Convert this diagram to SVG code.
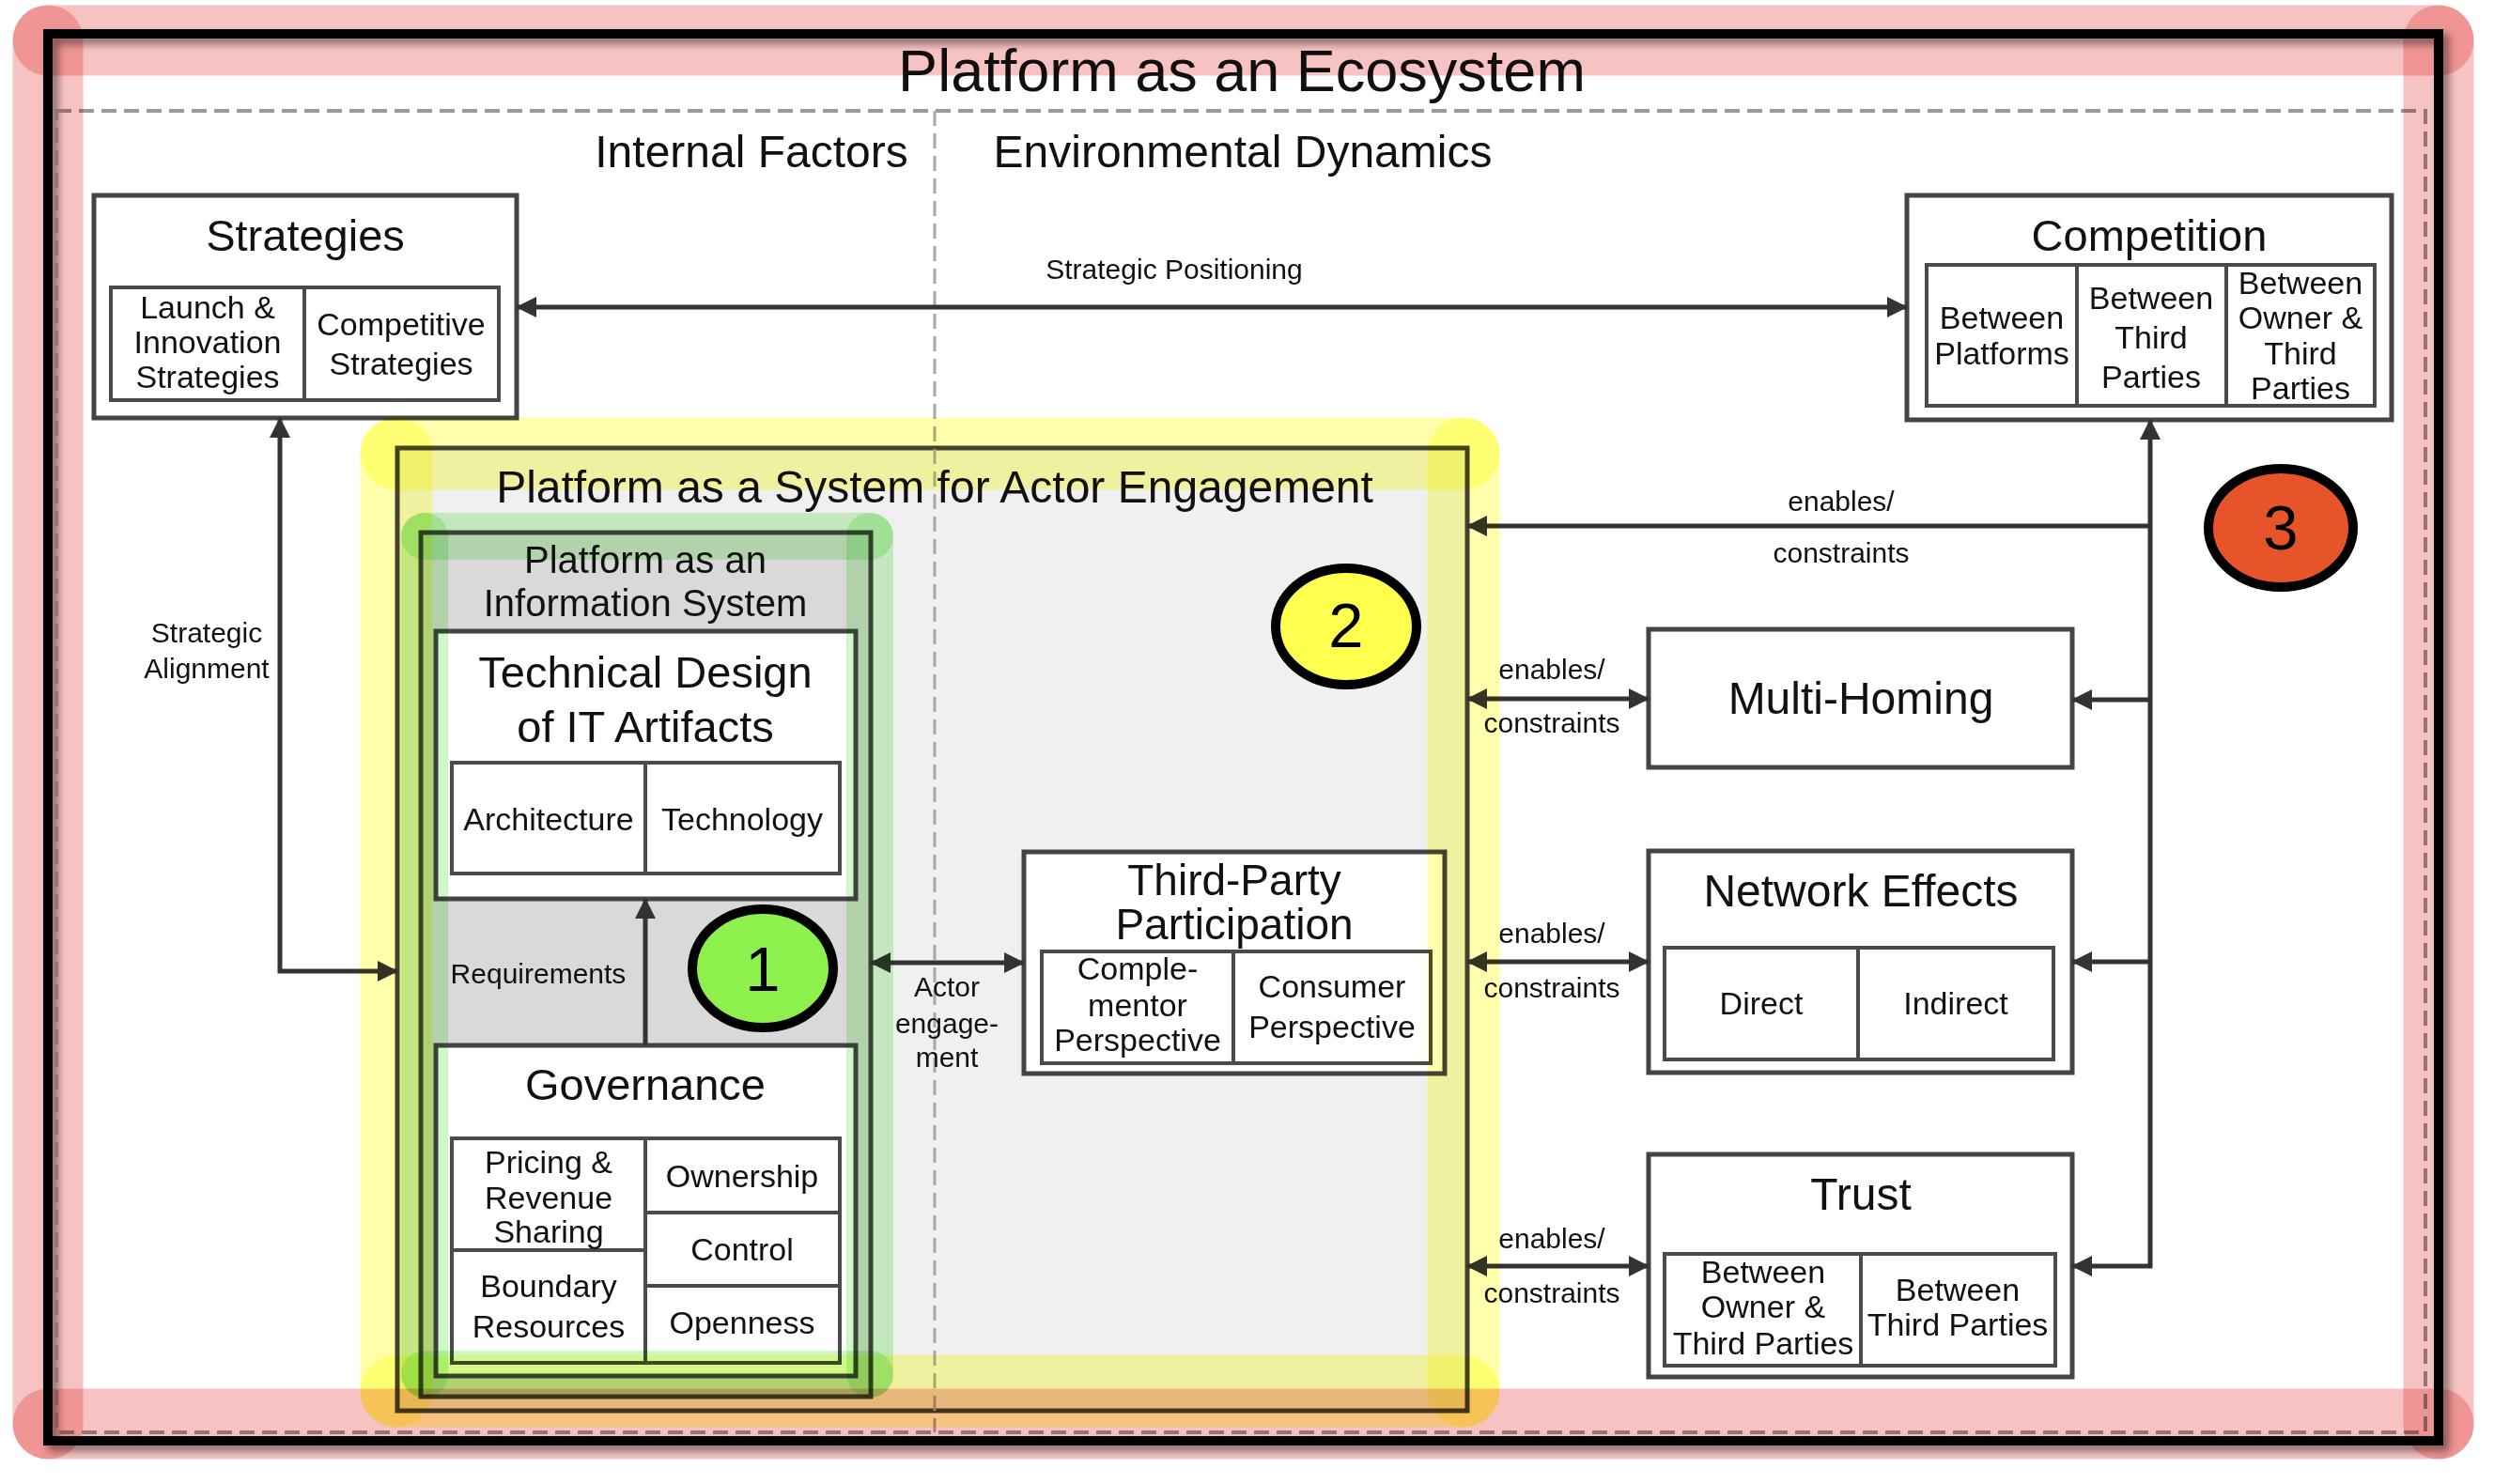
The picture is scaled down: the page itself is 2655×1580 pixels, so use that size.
<svg xmlns="http://www.w3.org/2000/svg" width="2655" height="1580" viewBox="0 0 2655 1580">
<defs>
<style>
.t{font-family:"Liberation Sans",Arial,Helvetica,sans-serif;fill:#111;text-anchor:middle}
.box{fill:#fff;stroke:#444;stroke-width:5}
.cell{fill:#fff;stroke:#4a4a4a;stroke-width:4}
.ln{stroke:#4a4a4a;stroke-width:4}
.conn{stroke:#333;stroke-width:5;fill:none}
.pink{stroke:rgb(229,57,53);stroke-opacity:.3;stroke-width:75;stroke-linecap:round;fill:none;mix-blend-mode:multiply}
.yel{stroke:rgb(255,255,0);stroke-opacity:.33;stroke-width:77;stroke-linecap:round;fill:none;mix-blend-mode:multiply}
.grn{stroke:rgb(60,220,30);stroke-opacity:.24;stroke-width:50;stroke-linecap:round;fill:none;mix-blend-mode:multiply}
.dash{stroke:#9a9a9a;stroke-width:4;stroke-dasharray:16 8;fill:none}
.num{font-family:"Liberation Sans",Arial,sans-serif;font-size:67px;fill:#000;text-anchor:middle}
.circ{stroke:#000;stroke-width:10}
</style>
<marker id="ar" markerUnits="userSpaceOnUse" markerWidth="22" markerHeight="22" viewBox="0 0 22 22" refX="21" refY="11" orient="auto-start-reverse">
<path d="M0,0 L22,11 L0,22 z" fill="#333"/>
</marker>
<filter id="sh" x="-5%" y="-5%" width="110%" height="110%">
<feDropShadow dx="6" dy="6" stdDeviation="4" flood-color="#000" flood-opacity="0.45"/>
</filter>
</defs>
<rect x="0" y="0" width="2655" height="1580" fill="#fff"/>

<g id="frame">
<rect x="51" y="36" width="2545" height="1498" fill="none" stroke="#000" stroke-width="10" filter="url(#sh)"/>
<rect x="60" y="118" width="2522" height="1407" class="dash"/>
<text class="t" x="1322" y="97" font-size="63">Platform as an Ecosystem</text>
<text class="t" x="800" y="178" font-size="48">Internal Factors</text>
<text class="t" x="1323" y="178" font-size="48">Environmental Dynamics</text>
</g>

<g id="strategies">
<rect class="box" x="100" y="208" width="450" height="237"/>
<text class="t" x="325" y="267" font-size="47">Strategies</text>
<rect class="cell" x="118" y="306" width="413" height="120"/>
<line class="ln" x1="324" y1="306" x2="324" y2="426"/>
<text class="t" font-size="34"><tspan x="221" y="339">Launch &amp;</tspan><tspan x="221" y="376">Innovation</tspan><tspan x="221" y="413">Strategies</tspan></text>
<text class="t" font-size="34"><tspan x="427" y="357">Competitive</tspan><tspan x="427" y="399">Strategies</tspan></text>
</g>

<g id="competition">
<rect class="box" x="2030" y="208" width="516" height="239"/>
<text class="t" x="2288" y="267" font-size="47">Competition</text>
<rect class="cell" x="2051" y="282" width="477" height="150"/>
<line class="ln" x1="2211" y1="282" x2="2211" y2="432"/>
<line class="ln" x1="2370" y1="282" x2="2370" y2="432"/>
<text class="t" font-size="34"><tspan x="2131" y="350">Between</tspan><tspan x="2131" y="388">Platforms</tspan></text>
<text class="t" font-size="34"><tspan x="2290" y="329">Between</tspan><tspan x="2290" y="371">Third</tspan><tspan x="2290" y="413">Parties</tspan></text>
<text class="t" font-size="34"><tspan x="2449" y="313">Between</tspan><tspan x="2449" y="350">Owner &amp;</tspan><tspan x="2449" y="388">Third</tspan><tspan x="2449" y="425">Parties</tspan></text>
</g>

<g id="platform-actor-engagement">
<rect x="423" y="477" width="1139" height="1025" fill="#f0f0f0" stroke="#444" stroke-width="5"/>
<text class="t" x="995" y="535" font-size="48">Platform as a System for Actor Engagement</text>
</g>

<line x1="995" y1="118" x2="995" y2="1525" stroke="#a8a8a8" stroke-width="3" stroke-dasharray="16 8"/>

<g id="platform-information-system">
<rect x="448" y="567" width="479" height="920" fill="#d9d9d9" stroke="#444" stroke-width="5"/>
<text class="t" font-size="40"><tspan x="687" y="610">Platform as an</tspan><tspan x="687" y="656">Information System</tspan></text>
</g>

<g id="technical-design">
<rect class="box" x="464" y="672" width="447" height="285"/>
<text class="t" font-size="47"><tspan x="687" y="732">Technical Design</tspan><tspan x="687" y="790">of IT Artifacts</tspan></text>
<rect class="cell" x="481" y="812" width="413" height="118"/>
<line class="ln" x1="687" y1="812" x2="687" y2="930"/>
<text class="t" x="584" y="884" font-size="34">Architecture</text>
<text class="t" x="790" y="884" font-size="34">Technology</text>
</g>

<g id="governance">
<rect class="box" x="464" y="1113" width="447" height="352"/>
<text class="t" x="687" y="1171" font-size="47">Governance</text>
<rect class="cell" x="481" y="1212" width="413" height="239"/>
<line class="ln" x1="687" y1="1212" x2="687" y2="1451"/>
<line class="ln" x1="481" y1="1331" x2="687" y2="1331"/>
<line class="ln" x1="687" y1="1291" x2="894" y2="1291"/>
<line class="ln" x1="687" y1="1369" x2="894" y2="1369"/>
<text class="t" font-size="34"><tspan x="584" y="1249">Pricing &amp;</tspan><tspan x="584" y="1287">Revenue</tspan><tspan x="584" y="1323">Sharing</tspan></text>
<text class="t" font-size="34"><tspan x="584" y="1381">Boundary</tspan><tspan x="584" y="1424">Resources</tspan></text>
<text class="t" x="790" y="1264" font-size="34">Ownership</text>
<text class="t" x="790" y="1342" font-size="34">Control</text>
<text class="t" x="790" y="1420" font-size="34">Openness</text>
</g>

<g id="third-party-participation">
<rect class="box" x="1090" y="907" width="448" height="236"/>
<text class="t" font-size="46"><tspan x="1314" y="953">Third-Party</tspan><tspan x="1314" y="1000">Participation</tspan></text>
<rect class="cell" x="1109" y="1013" width="414" height="119"/>
<line class="ln" x1="1313" y1="1013" x2="1313" y2="1132"/>
<text class="t" font-size="34"><tspan x="1211" y="1043">Comple-</tspan><tspan x="1211" y="1082">mentor</tspan><tspan x="1211" y="1119">Perspective</tspan></text>
<text class="t" font-size="34"><tspan x="1418" y="1062">Consumer</tspan><tspan x="1418" y="1105">Perspective</tspan></text>
</g>

<g id="multi-homing">
<rect class="box" x="1755" y="670" width="451" height="147"/>
<text class="t" x="1981" y="760" font-size="48">Multi-Homing</text>
</g>

<g id="network-effects">
<rect class="box" x="1755" y="906" width="451" height="236"/>
<text class="t" x="1981" y="965" font-size="48">Network Effects</text>
<rect class="cell" x="1772" y="1009" width="414" height="119"/>
<line class="ln" x1="1978" y1="1009" x2="1978" y2="1128"/>
<text class="t" x="1875" y="1080" font-size="34">Direct</text>
<text class="t" x="2082" y="1080" font-size="34">Indirect</text>
</g>

<g id="trust">
<rect class="box" x="1755" y="1229" width="451" height="237"/>
<text class="t" x="1981" y="1288" font-size="48">Trust</text>
<rect class="cell" x="1772" y="1335" width="416" height="119"/>
<line class="ln" x1="1981" y1="1335" x2="1981" y2="1454"/>
<text class="t" font-size="34"><tspan x="1877" y="1366">Between</tspan><tspan x="1877" y="1403">Owner &amp;</tspan><tspan x="1877" y="1442">Third Parties</tspan></text>
<text class="t" font-size="34"><tspan x="2084" y="1385">Between</tspan><tspan x="2084" y="1422">Third Parties</tspan></text>
</g>

<g id="connectors">
<line class="conn" x1="550" y1="327" x2="2030" y2="327" marker-start="url(#ar)" marker-end="url(#ar)"/>
<text class="t" x="1250" y="297" font-size="30">Strategic Positioning</text>
<path class="conn" d="M423,1034 L298,1034 L298,445" marker-start="url(#ar)" marker-end="url(#ar)"/>
<text class="t" font-size="30"><tspan x="220" y="684">Strategic</tspan><tspan x="220" y="722">Alignment</tspan></text>
<line class="conn" x1="687" y1="1113" x2="687" y2="957" marker-end="url(#ar)"/>
<text class="t" x="573" y="1047" font-size="30">Requirements</text>
<line class="conn" x1="927" y1="1025" x2="1090" y2="1025" marker-start="url(#ar)" marker-end="url(#ar)"/>
<text class="t" font-size="30"><tspan x="1008" y="1061">Actor</tspan><tspan x="1008" y="1100">engage-</tspan><tspan x="1008" y="1136">ment</tspan></text>
<line class="conn" x1="2289" y1="1350" x2="2289" y2="447" marker-end="url(#ar)"/>
<line class="conn" x1="2289" y1="560" x2="1562" y2="560" marker-end="url(#ar)"/>
<line class="conn" x1="2289" y1="745" x2="2206" y2="745" marker-end="url(#ar)"/>
<line class="conn" x1="2289" y1="1024" x2="2206" y2="1024" marker-end="url(#ar)"/>
<line class="conn" x1="2291" y1="1348" x2="2206" y2="1348" marker-end="url(#ar)"/>
<text class="t" x="1960" y="544" font-size="30">enables/</text>
<text class="t" x="1960" y="599" font-size="30">constraints</text>
<line class="conn" x1="1562" y1="744" x2="1755" y2="744" marker-start="url(#ar)" marker-end="url(#ar)"/>
<line class="conn" x1="1562" y1="1024" x2="1755" y2="1024" marker-start="url(#ar)" marker-end="url(#ar)"/>
<line class="conn" x1="1562" y1="1348" x2="1755" y2="1348" marker-start="url(#ar)" marker-end="url(#ar)"/>
<text class="t" font-size="30"><tspan x="1652" y="723">enables/</tspan><tspan x="1652" y="780">constraints</tspan></text>
<text class="t" font-size="30"><tspan x="1652" y="1004">enables/</tspan><tspan x="1652" y="1062">constraints</tspan></text>
<text class="t" font-size="30"><tspan x="1652" y="1329">enables/</tspan><tspan x="1652" y="1387">constraints</tspan></text>
</g>

<g id="highlights">
<line class="grn" x1="452" y1="571" x2="926" y2="571"/>
<line class="grn" x1="452" y1="571" x2="452" y2="1463"/>
<line class="grn" x1="926" y1="571" x2="926" y2="1463"/>
<line class="grn" x1="452" y1="1463" x2="926" y2="1463"/>
<line class="yel" x1="422" y1="483" x2="1558" y2="483"/>
<line class="yel" x1="422" y1="483" x2="422" y2="1481"/>
<line class="yel" x1="1558" y1="483" x2="1558" y2="1481"/>
<line class="yel" x1="422" y1="1481" x2="1558" y2="1481"/>
<line class="pink" x1="51" y1="43" x2="2596" y2="43"/>
<line class="pink" x1="51" y1="43" x2="51" y2="1516"/>
<line class="pink" x1="2596" y1="43" x2="2596" y2="1516"/>
<line class="pink" x1="51" y1="1516" x2="2596" y2="1516"/>
</g>

<g id="marker-1">
<ellipse class="circ" cx="812" cy="1031" rx="75" ry="63" fill="#8ef04c"/>
<text class="num" x="812" y="1055">1</text>
</g>
<g id="marker-2">
<ellipse class="circ" cx="1433" cy="667" rx="75" ry="62" fill="#ffff4d"/>
<text class="num" x="1433" y="689">2</text>
</g>
<g id="marker-3">
<ellipse class="circ" cx="2428" cy="562" rx="77" ry="63" fill="#e8542a"/>
<text class="num" x="2428" y="585">3</text>
</g>
</svg>
